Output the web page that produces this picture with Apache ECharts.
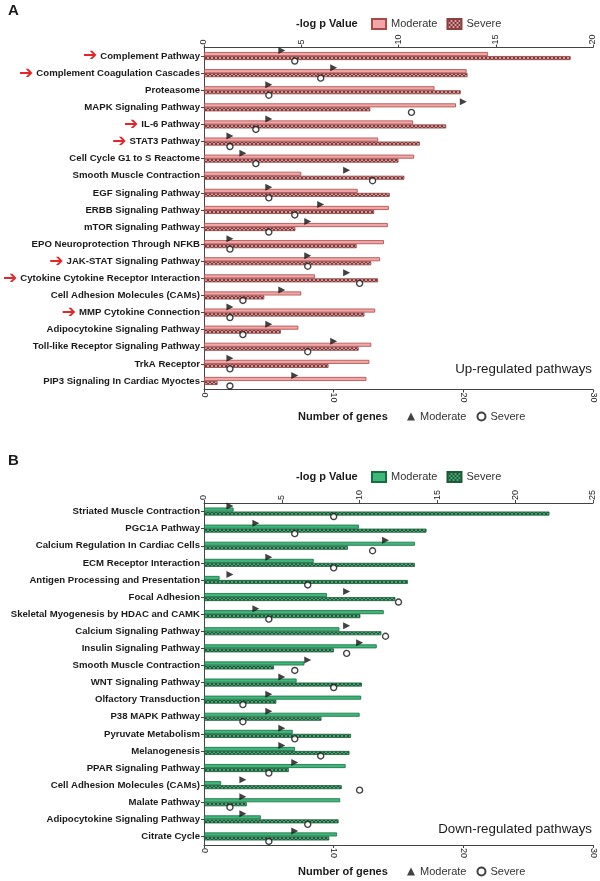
<!DOCTYPE html>
<html>
<head>
<meta charset="utf-8">
<script src="https://cdn.jsdelivr.net/npm/echarts@6/dist/echarts.min.js"></script>
<style>
html,body{margin:0;padding:0;background:#fff;}
#chart{width:600px;height:881px;}
</style>
</head>
<body>
<div id="chart"></div>
<script>
// ---------- Panel A: up-regulated ----------
const catsA = [
  'Complement Pathway','Complement Coagulation Cascades','Proteasome','MAPK Signaling Pathway',
  'IL-6 Pathway','STAT3 Pathway','Cell Cycle G1 to S Reactome','Smooth Muscle Contraction',
  'EGF Signaling Pathway','ERBB Signaling Pathway','mTOR Signaling Pathway','EPO Neuroprotection Through NFKB',
  'JAK-STAT Signaling Pathway','Cytokine Cytokine Receptor Interaction','Cell Adhesion Molecules (CAMs)',
  'MMP Cytokine Connection','Adipocytokine Signaling Pathway','Toll-like Receptor Signaling Pathway',
  'TrkA Receptor','PIP3 Signaling In Cardiac Myoctes'
];
const logpModA = [14.6,13.5,11.85,12.95,10.75,8.95,10.8,5.0,7.9,9.5,9.45,9.25,9.05,5.7,5.0,8.8,4.85,8.6,8.5,8.35];
const logpSevA = [18.85,13.55,13.2,8.55,12.45,11.1,10.0,10.3,9.55,8.75,4.7,7.85,8.6,8.95,3.1,8.25,3.95,7.95,6.4,0.7];
const genesModA = [6,10,5,20,5,2,3,11,5,9,8,2,8,11,6,2,5,10,2,7];
const genesSevA = [7,9,5,16,4,2,4,13,5,7,5,2,8,12,3,2,3,8,2,2];
const arrowsA = ['Complement Pathway','Complement Coagulation Cascades','IL-6 Pathway','STAT3 Pathway',
  'JAK-STAT Signaling Pathway','Cytokine Cytokine Receptor Interaction','MMP Cytokine Connection'];
const topTicksA = [0,5,10,15,20];
const bottomTicksA = [0,10,20,30];

// ---------- Panel B: down-regulated ----------
const catsB = [
  'Striated Muscle Contraction','PGC1A Pathway','Calcium Regulation In Cardiac Cells','ECM Receptor Interaction',
  'Antigen Processing and Presentation','Focal Adhesion','Skeletal Myogenesis by HDAC and CAMK',
  'Calcium Signaling Pathway','Insulin Signaling Pathway','Smooth Muscle Contraction','WNT Signaling Pathway',
  'Olfactory Transduction','P38 MAPK Pathway','Pyruvate Metabolism','Melanogenesis','PPAR Signaling Pathway',
  'Cell Adhesion Molecules (CAMs)','Malate Pathway','Adipocytokine Signaling Pathway','Citrate Cycle'
];
const logpModB = [1.9,9.95,13.55,7.05,1.0,7.9,11.55,8.7,11.1,6.45,5.95,10.1,10.0,5.7,5.85,9.1,1.1,8.75,3.65,8.55];
const logpSevB = [22.2,14.3,9.25,13.55,13.1,12.3,10.05,11.4,8.35,4.5,10.15,4.65,7.55,9.45,9.35,5.45,8.85,2.75,8.65,8.05];
const genesModB = [2,4,14,5,2,11,4,11,12,8,6,5,5,6,6,7,3,3,3,7];
const genesSevB = [10,7,13,10,8,15,5,14,11,7,10,3,3,7,9,5,12,2,8,5];
const topTicksB = [0,5,10,15,20,25];
const bottomTicksB = [0,10,20,30];

const FONT = 'Liberation Sans, Arial, Helvetica, sans-serif';

function hatch(base, dark) {
  const c = document.createElement('canvas');
  c.width = 4; c.height = 4;
  const g = c.getContext('2d');
  g.fillStyle = base; g.fillRect(0,0,4,4);
  g.fillStyle = dark;
  g.fillRect(0,0,1,1); g.fillRect(1,1,1,1); g.fillRect(2,2,1,1); g.fillRect(3,3,1,1);
  g.fillRect(3,0,1,1); g.fillRect(2,1,1,1); g.fillRect(1,2,1,1); g.fillRect(0,3,1,1);
  return { image: c, repeat: 'repeat' };
}

const labelMap = {
  barModA:'Moderate', barSevA:'Severe', genModA:'Moderate', genSevA:'Severe',
  barModB:'Moderate', barSevB:'Severe', genModB:'Moderate', genSevB:'Severe'
};

function valueAxis(gi, pos, ticks) {
  return {
    gridIndex: gi, type: 'value', position: pos,
    min: ticks[0], max: ticks[ticks.length-1], interval: ticks[1]-ticks[0],
    axisLine: { show: true, lineStyle: { color: '#444', width: 1 } },
    axisTick: { show: true, length: 3, lineStyle: { color: '#444' } },
    axisLabel: { rotate: -90, fontSize: 9, color: '#222', margin: 3, fontFamily: FONT },
    splitLine: { show: false }
  };
}
function catAxis(gi, cats, arrows) {
  return {
    gridIndex: gi, type: 'category', data: cats, inverse: true,
    axisLine: { show: true, lineStyle: { color: '#444', width: 1 } },
    axisTick: { show: true, alignWithLabel: true, length: 3, lineStyle: { color: '#444' } },
    axisLabel: {
      fontSize: 9.6, fontWeight: 'bold', color: '#1a1a1a', margin: 4, fontFamily: FONT,
      formatter: function (v) { return arrows.indexOf(v) >= 0 ? '{ar|\u2794}' + v : v; },
      rich: { ar: { color: '#e3262a', fontSize: 17, fontFamily: 'DejaVu Sans', padding: [0, 3, 0, 0] } }
    },
    splitLine: { show: false }
  };
}
function bars(name, xi, yi, data, style) {
  return { name: name, type: 'bar', xAxisIndex: xi, yAxisIndex: yi, data: data,
    barWidth: 4, barGap: '0%', itemStyle: style, z: 2 };
}
function tri(name, xi, yi, data) {
  return { name: name, type: 'scatter', xAxisIndex: xi, yAxisIndex: yi,
    data: data.map((v, i) => [v, i]), symbol: 'triangle', symbolRotate: -90, symbolSize: 7,
    symbolOffset: [0, -5.5], itemStyle: { color: '#111' }, z: 5 };
}
function circ(name, xi, yi, data) {
  return { name: name, type: 'scatter', xAxisIndex: xi, yAxisIndex: yi,
    data: data.map((v, i) => [v, i]), symbol: 'circle', symbolSize: 6,
    symbolOffset: [0, 5], itemStyle: { color: '#fff', borderColor: '#111', borderWidth: 1.4 }, z: 5 };
}
function topLegend(top, names) {
  return { top: top, left: 371, padding: 0, data: names, icon: 'rect', itemWidth: 14, itemHeight: 10, itemGap: 9,
    formatter: n => labelMap[n], selectedMode: false,
    textStyle: { fontSize: 11, color: '#333', fontFamily: FONT } };
}
function botLegend(top, names) {
  return { top: top, left: 407, padding: 0, data: names, itemWidth: 8, itemHeight: 8, itemGap: 10, symbolRotate: 0,
    formatter: n => labelMap[n], selectedMode: false,
    textStyle: { fontSize: 11, color: '#333', fontFamily: FONT } };
}
function ttl(text, pos, size, bold) {
  return Object.assign({ text: text, padding: 0,
    textStyle: { fontSize: size, fontWeight: bold ? 'bold' : 'normal', color: '#1a1a1a', fontFamily: FONT } }, pos);
}

const pinkMod = { color: '#f4a5a5', borderColor: '#a84a4a', borderWidth: 0.8 };
const pinkSev = { color: hatch('#d89a9a', '#7a3838'), borderColor: '#8a4040', borderWidth: 0.8 };
const greenMod = { color: '#3cb878', borderColor: '#1b6a42', borderWidth: 0.8 };
const greenSev = { color: hatch('#48a672', '#1d5a3a'), borderColor: '#1d5a3a', borderWidth: 0.8 };

const option = {
  animation: false,
  backgroundColor: '#fff',
  textStyle: { fontFamily: FONT },
  grid: [
    { left: 204, right: 7, top: 47.5, height: 342 },
    { left: 204, right: 7, top: 503, height: 342 }
  ],
  xAxis: [
    valueAxis(0, 'top', topTicksA), valueAxis(0, 'bottom', bottomTicksA),
    valueAxis(1, 'top', topTicksB), valueAxis(1, 'bottom', bottomTicksB)
  ],
  yAxis: [ catAxis(0, catsA, arrowsA), catAxis(1, catsB, []) ],
  title: [
    ttl('A', { left: 8, top: 3 }, 15, true),
    ttl('B', { left: 8, top: 453 }, 15, true),
    ttl('-log p Value', { left: 296, top: 18 }, 11, true),
    ttl('-log p Value', { left: 296, top: 471 }, 11, true),
    ttl('Number of genes', { left: 298, top: 411 }, 11, true),
    ttl('Number of genes', { left: 298, top: 866 }, 11, true),
    ttl('Up-regulated pathways', { right: 8, top: 363 }, 13.3, false),
    ttl('Down-regulated pathways', { right: 8, top: 823 }, 13.3, false)
  ],
  legend: [
    topLegend(18, ['barModA', 'barSevA']),
    botLegend(411, ['genModA', 'genSevA']),
    topLegend(471, ['barModB', 'barSevB']),
    botLegend(866, ['genModB', 'genSevB'])
  ],
  series: [
    bars('barModA', 0, 0, logpModA, pinkMod),
    bars('barSevA', 0, 0, logpSevA, pinkSev),
    tri('genModA', 1, 0, genesModA),
    circ('genSevA', 1, 0, genesSevA),
    bars('barModB', 2, 1, logpModB, greenMod),
    bars('barSevB', 2, 1, logpSevB, greenSev),
    tri('genModB', 3, 1, genesModB),
    circ('genSevB', 3, 1, genesSevB)
  ]
};
const chart = echarts.init(document.getElementById('chart'), null, { renderer: 'canvas' });
chart.setOption(option);
</script>
</body>
</html>
